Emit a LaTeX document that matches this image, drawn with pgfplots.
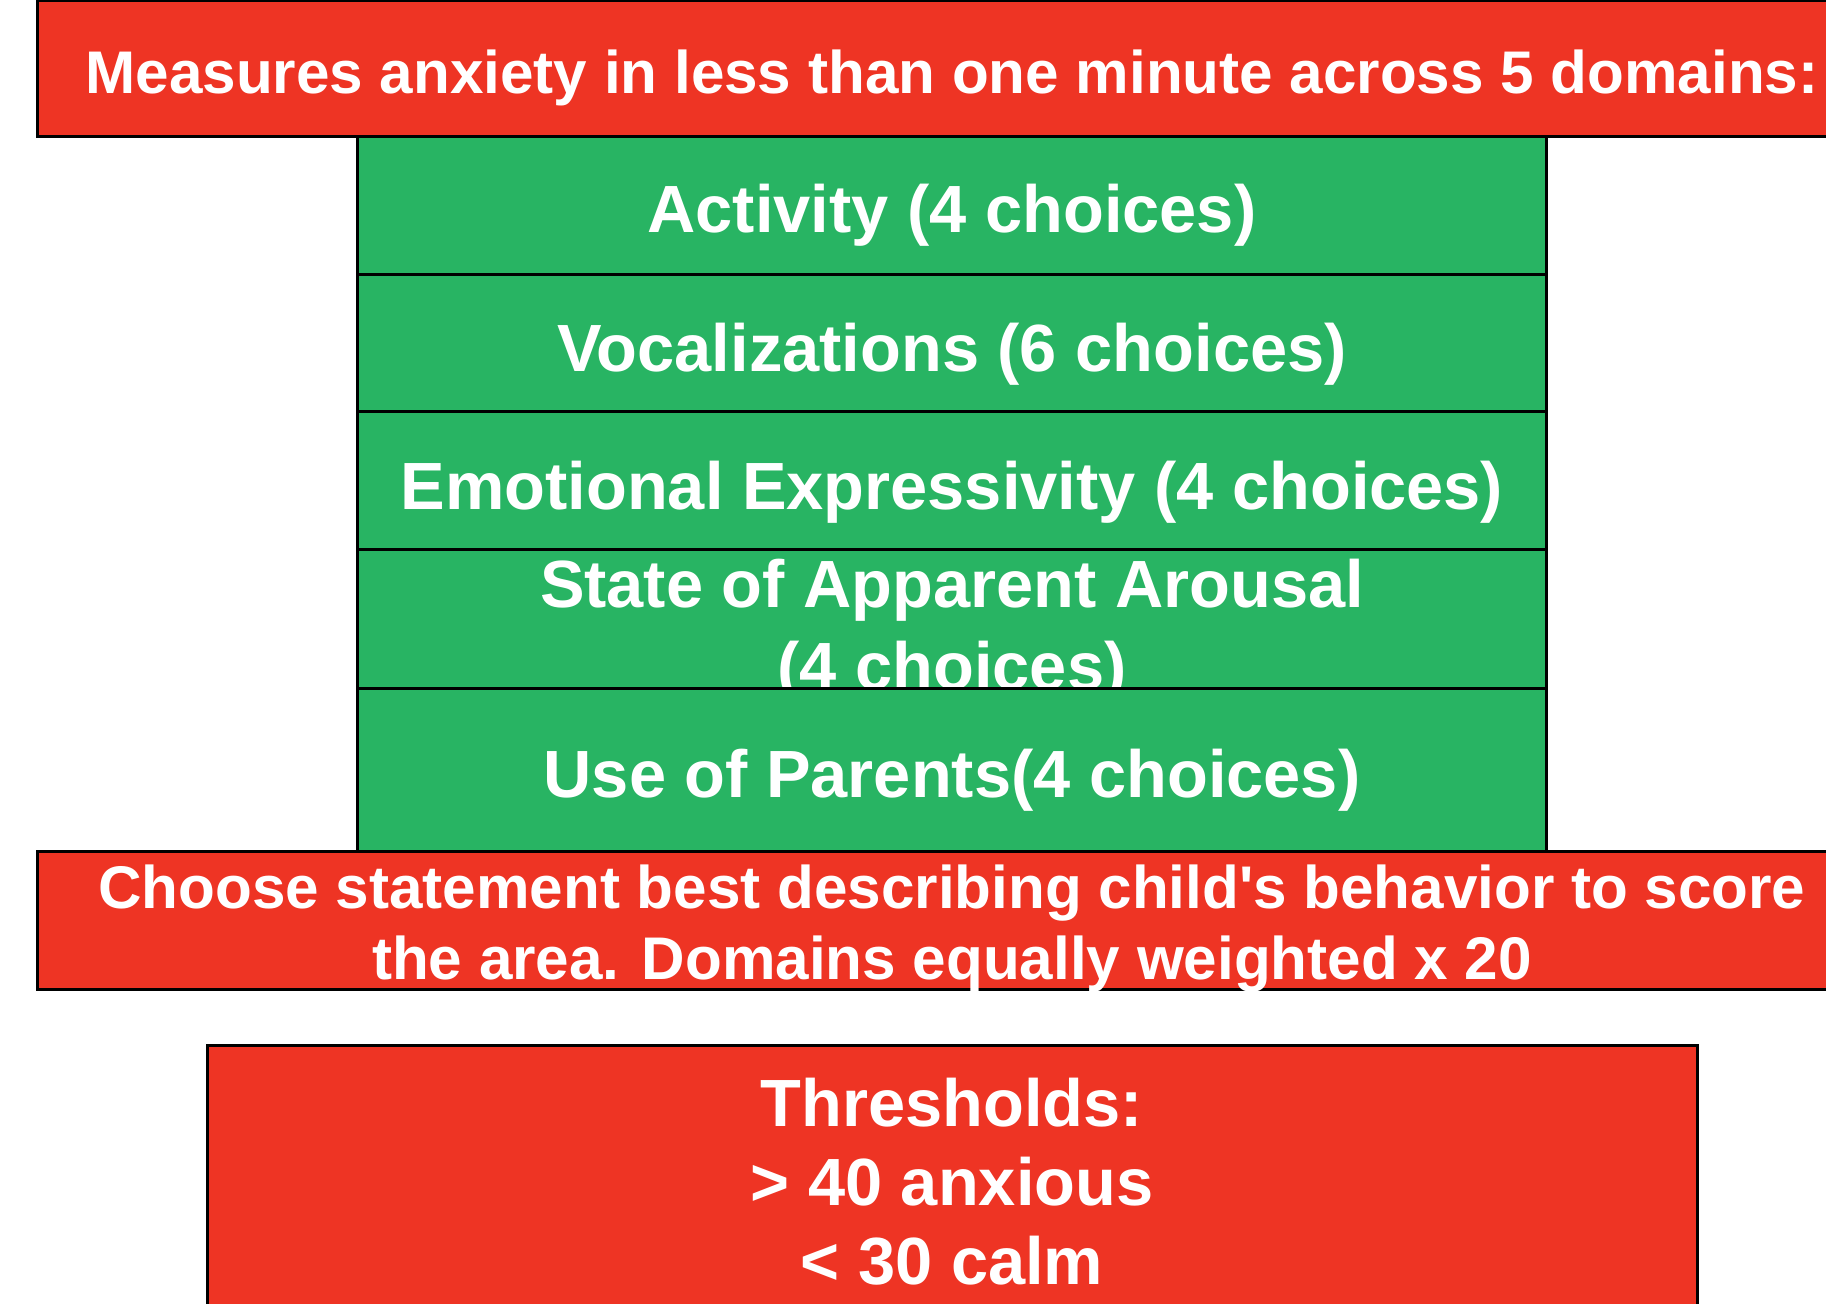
\documentclass[border=0pt]{standalone}
\usepackage{fontspec}
\setmainfont{Liberation Sans}
\usepackage{pgfplots}
\pgfplotsset{compat=1.18}
\definecolor{boxred}{HTML}{EE3424}
\definecolor{boxgreen}{HTML}{28B463}
\tikzset{
  bigtxt/.style={text=white,font=\bfseries\fontsize{33.4}{40}\selectfont,anchor=base,inner sep=0pt},
  redtxt/.style={text=white,font=\bfseries\fontsize{30.1}{36}\selectfont,anchor=base,inner sep=0pt},
}
\begin{document}
\begin{tikzpicture}
\begin{axis}[width=913pt,height=651.5pt,scale only axis,
  xmin=0,xmax=1826,ymin=0,ymax=1303,y dir=reverse,
  axis lines=none,clip=true]
% top red box
\addplot[fill=boxred,draw=black,line width=1.5pt] coordinates {(37,0)(1900,0)(1900,136)(37,136)} --cycle;
\node[redtxt] at (axis cs:952,93) {Measures anxiety in less than one minute across 5 domains:};
% green boxes
\addplot[fill=boxgreen,draw=black,line width=1.5pt] coordinates {(357,136)(1546,136)(1546,274)(357,274)} --cycle;
\node[bigtxt] at (axis cs:952,232) {Activity (4 choices)};
\addplot[fill=boxgreen,draw=black,line width=1.5pt] coordinates {(357,274)(1546,274)(1546,411)(357,411)} --cycle;
\node[bigtxt] at (axis cs:952,371) {Vocalizations (6 choices)};
\addplot[fill=boxgreen,draw=black,line width=1.5pt] coordinates {(357,411)(1546,411)(1546,549)(357,549)} --cycle;
\node[bigtxt] at (axis cs:952,509) {Emotional Expressivity (4 choices)};
\addplot[fill=boxgreen,draw=black,line width=1.5pt] coordinates {(357,549)(1546,549)(1546,688)(357,688)} --cycle;
\node[bigtxt] at (axis cs:952,607) {State of Apparent Arousal};
\node[bigtxt] at (axis cs:952,689) {(4 choices)};
\addplot[fill=boxgreen,draw=black,line width=1.5pt] coordinates {(357,688)(1546,688)(1546,851)(357,851)} --cycle;
\node[bigtxt] at (axis cs:952,797) {Use of Parents(4 choices)};
% second red box
\addplot[fill=boxred,draw=black,line width=1.5pt] coordinates {(37,851)(1900,851)(1900,989)(37,989)} --cycle;
\node[redtxt] at (axis cs:952,908) {Choose statement best describing child\textquotesingle s behavior to score};
\node[redtxt] at (axis cs:952,979) {the area. Domains equally weighted x 20};
% thresholds box
\addplot[fill=boxred,draw=black,line width=1.5pt] coordinates {(207,1045)(1697,1045)(1697,1400)(207,1400)} --cycle;
\node[bigtxt] at (axis cs:952,1126) {Thresholds:};
\node[bigtxt] at (axis cs:952,1205) {> 40 anxious};
\node[bigtxt] at (axis cs:952,1284) {< 30 calm};
\end{axis}
\pgfresetboundingbox
\path[use as bounding box] (current axis.south west) rectangle (current axis.north east);
\end{tikzpicture}
\end{document}
